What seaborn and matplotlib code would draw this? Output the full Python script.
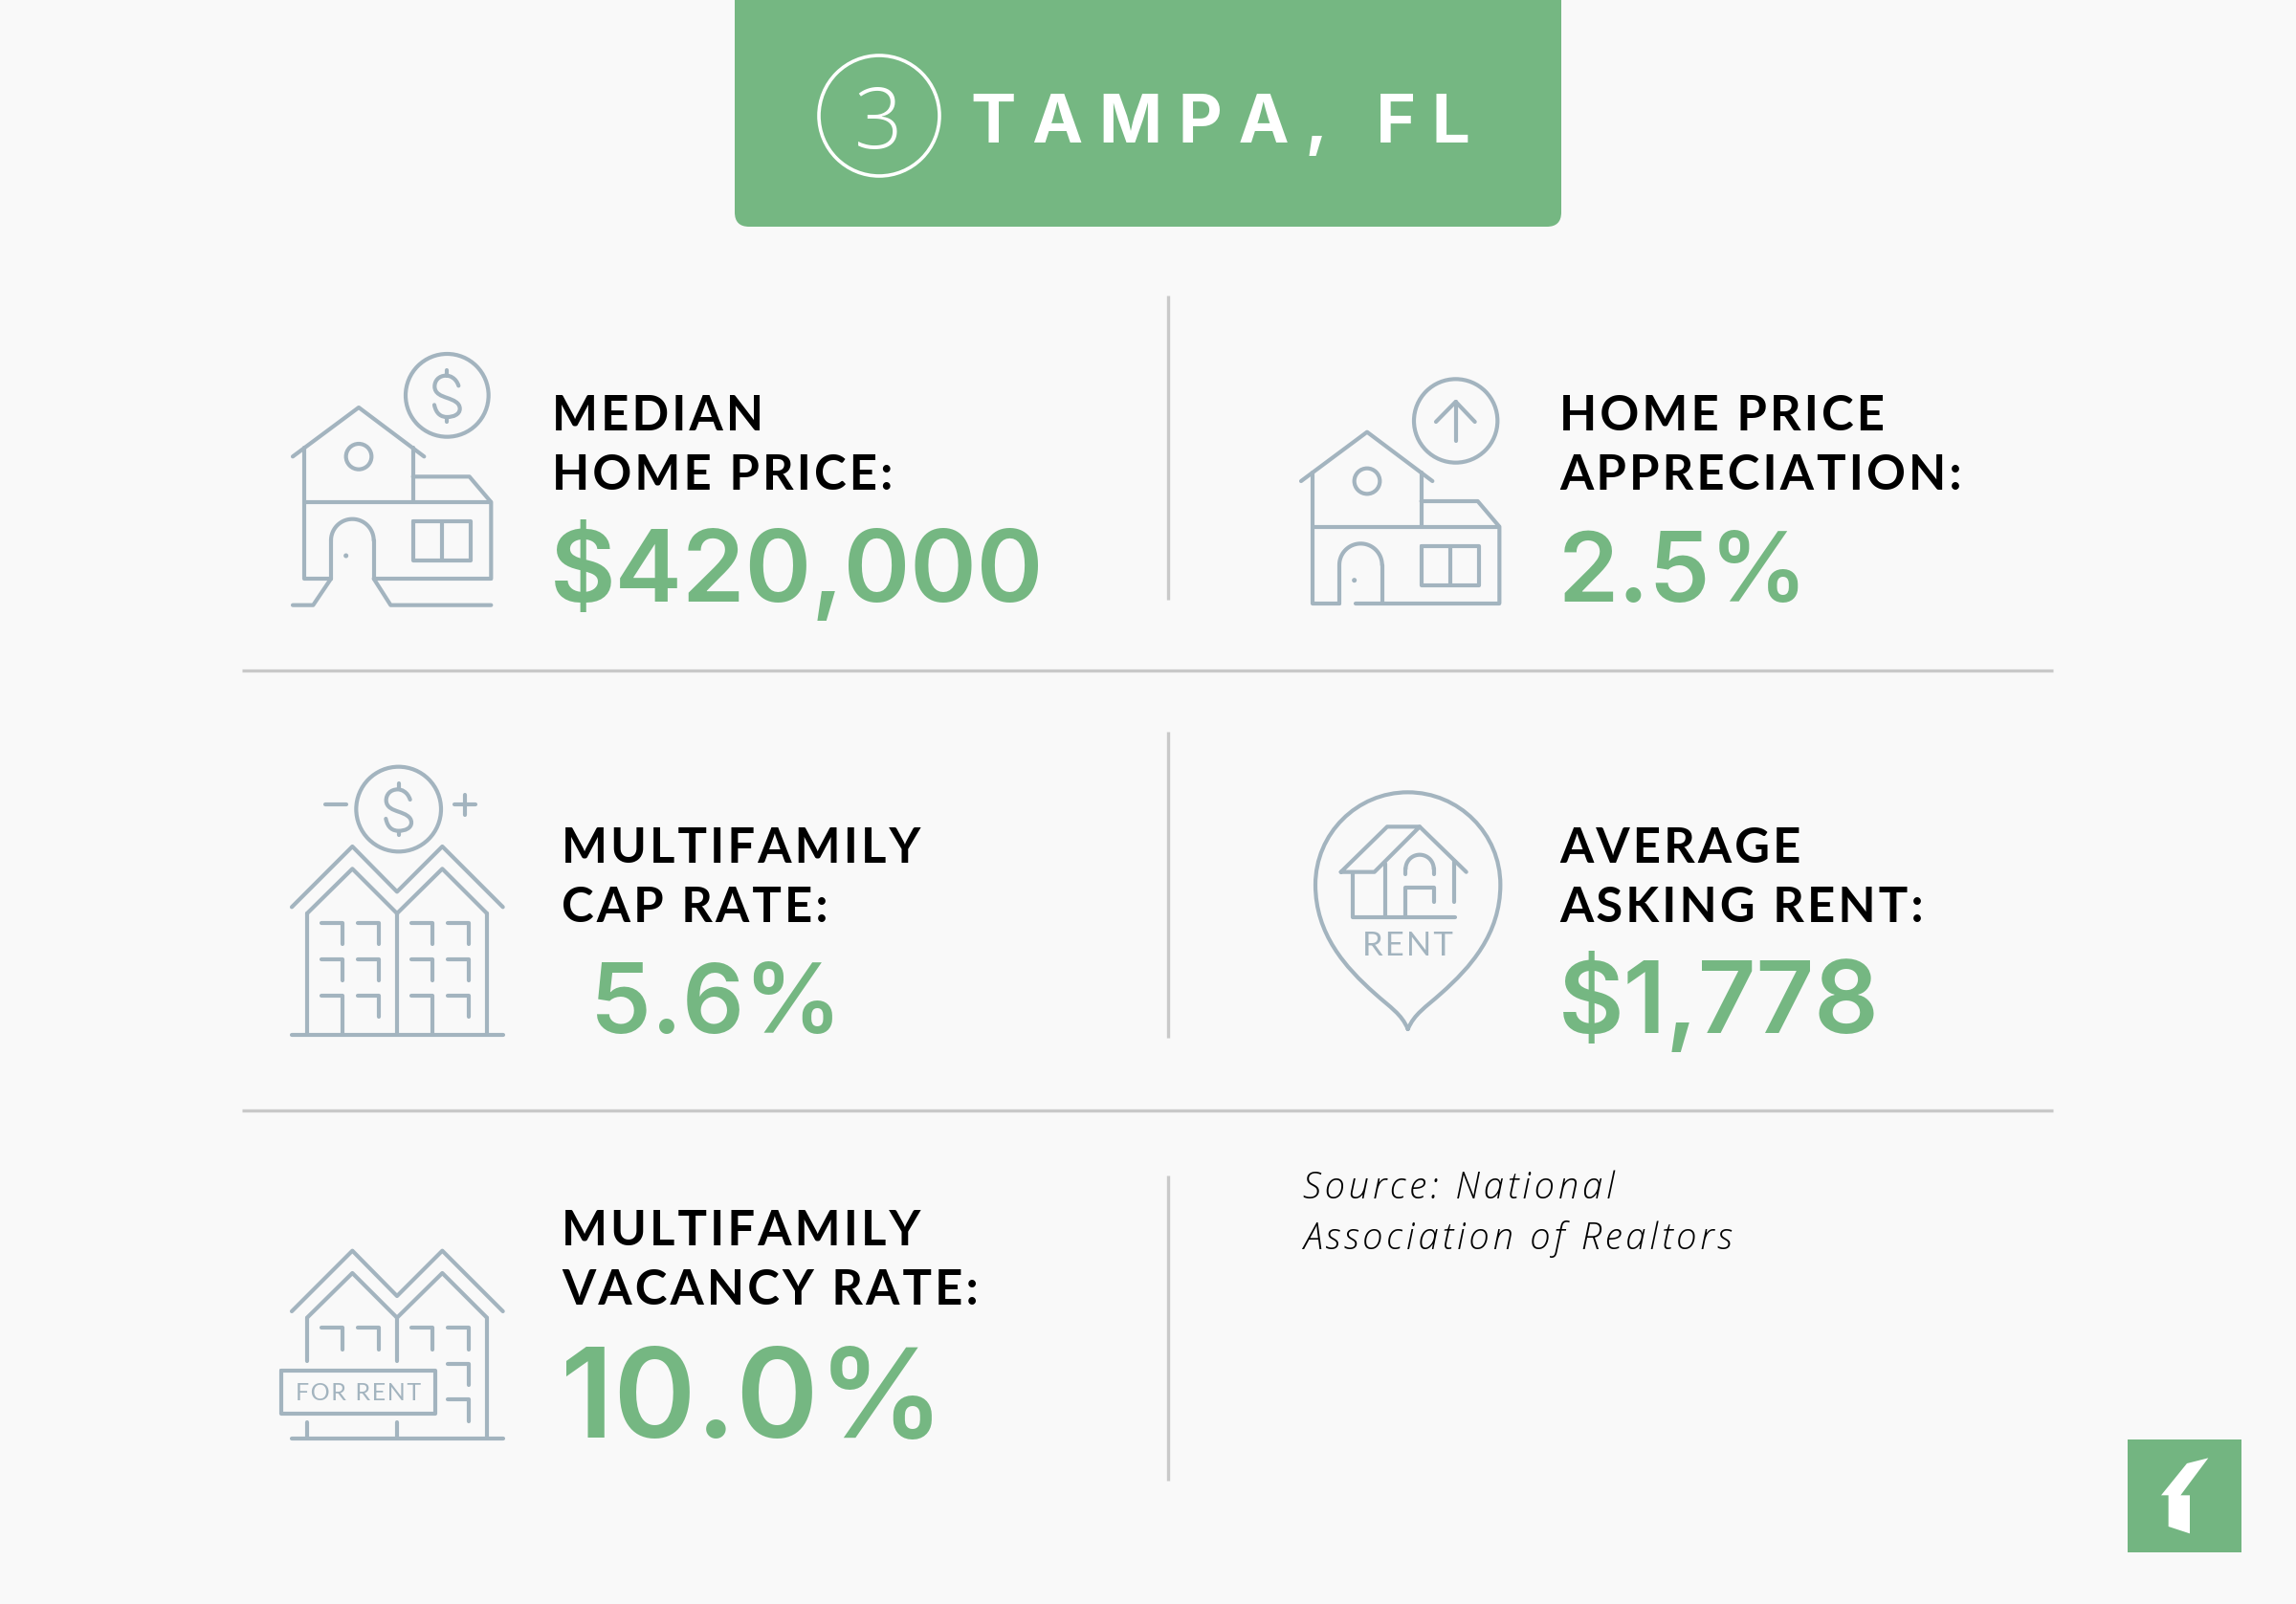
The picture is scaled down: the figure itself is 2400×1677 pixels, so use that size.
import numpy as np
import matplotlib
matplotlib.use("Agg")
import matplotlib.pyplot as plt
import seaborn as sns
from matplotlib.patches import Circle, FancyBboxPatch, PathPatch, Polygon, Rectangle
from matplotlib.path import Path

# --- Data ---
CITY_RANK = "3"
CITY_NAME = "TAMPA, FL"
LABELS = [
    ["MEDIAN", "HOME PRICE:"],
    ["HOME PRICE", "APPRECIATION:"],
    ["MULTIFAMILY", "CAP RATE:"],
    ["AVERAGE", "ASKING RENT:"],
    ["MULTIFAMILY", "VACANCY RATE:"],
]
VALUES = ["$420,000", "2.5%", "5.6%", "$1,778", "10.0%"]
SOURCE = ["Source: National", "Association of Realtors"]

# --- Style ---
BG = "#F9F9F9"
GREEN = "#75B782"
ICON = "#A3B4BF"
RULE = "#C9C9C9"
HAIR = "\u200a"

sns.set_theme(style="white")
plt.rcParams["font.family"] = ["Lato", "DejaVu Sans"]

fig, ax = plt.subplots(figsize=(24, 16.77), dpi=100, facecolor=BG)
ax.set_position([0, 0, 1, 1])
ax.set_xlim(0, 2400)
ax.set_ylim(1677, 0)
ax.axis("off")


def track(s, n=1):
    return (HAIR * n).join(s)


def line(pts, org, lw=3.0):
    # icon coordinates are 3x pixels relative to org
    xy = np.array(pts, dtype=float) / 3 + org
    ax.plot(xy[:, 0], xy[:, 1], color=ICON, lw=lw, solid_capstyle="round",
            solid_joinstyle="round")


def ring(c, r, org, lw=3.0):
    xy = np.array(c, dtype=float) / 3 + org
    ax.add_patch(Circle(xy, r / 3, fill=False, ec=ICON, lw=lw))


def curve(verts, org, lw=3.0):
    # verts: start point, then cubic triples
    xy = np.array(verts, dtype=float) / 3 + org
    codes = [Path.MOVETO] + [Path.CURVE4] * (len(verts) - 1)
    ax.add_patch(PathPatch(Path(xy, codes), fill=False, ec=ICON, lw=lw, capstyle="round"))


def arc(c, r, org, start=180, end=360, lw=3.0):
    t = np.radians(np.linspace(start, end, 40))
    line(np.c_[c[0] + r * np.cos(t), c[1] + r * np.sin(t)], org, lw)


def dollar(c, org):
    pts = np.array([
        (36, -30), (28, -55), (8, -62), (-2, -62), (-27, -62), (-39, -45), (-39, -28),
        (-39, -5), (-17, 2), (0, 8), (20, 15), (40, 23), (40, 42), (40, 60), (20, 68),
        (0, 68), (-17, 68), (-34, 60), (-40, 30),
    ]) + c
    curve(pts, org)
    line([(c[0], c[1] - 80), (c[0], c[1] - 62)], org)
    line([(c[0], c[1] + 68), (c[0], c[1] + 82)], org)


def house(org):
    line([(108, 412), (315, 258), (520, 412)], org)
    line([(145, 385), (145, 795), (228, 795)], org)
    line([(485, 385), (485, 555)], org)
    line([(145, 555), (730, 555)], org)
    line([(485, 475), (662, 475), (730, 555), (730, 795)], org)
    line([(228, 795), (228, 675)], org)
    arc((295, 675), 67, org)
    line([(362, 675), (362, 795)], org)
    line([(485, 615), (665, 615), (665, 738), (485, 738), (485, 615)], org)
    line([(575, 615), (575, 738)], org)
    ring((315, 412), 40, org)
    ax.add_patch(Circle(np.array([275, 723]) / 3 + org, 1.8, color=ICON))


def corner(x, y, org, drop=67):
    line([(x - 67, y), (x, y), (x, y + drop)], org)


def towers(org, top):
    d = top - 315
    line([(75, 505 + d), (265, 315 + d), (405, 457 + d), (547, 315 + d), (737, 505 + d)], org)
    line([(123, 525 + d), (265, 385 + d), (405, 525 + d), (547, 385 + d), (687, 525 + d)], org)


# --- Banner ---
ax.add_patch(FancyBboxPatch((768, -40), 864, 277, boxstyle="round,pad=0,rounding_size=15",
                            fc=GREEN, ec="none"))
ax.add_patch(Circle((919, 121), 63, fill=False, ec="white", lw=2.6))
ax.text(918, 155, CITY_RANK, color="white", fontsize=64, family=["Open Sans", "DejaVu Sans"],
        fontweight="light", ha="center", va="baseline")
ax.text(1015, 149, track(CITY_NAME, 3), color="white", fontsize=51,
        family=["Inter", "DejaVu Sans"], fontweight="bold", ha="left", va="baseline")

# --- Dividers ---
for y in [701, 1161]:
    ax.plot([253, 2146], [y, y], color=RULE, lw=2.4, solid_capstyle="butt")
for y0, y1 in [(309, 627), (765, 1085), (1229, 1548)]:
    ax.plot([1221, 1221], [y0, y1], color=RULE, lw=2.4, solid_capstyle="butt")

# --- Labels and values ---
label_x = [577, 1630, 587, 1630, 587]
label_y = [450, 450, 902, 902, 1302]
value_x = [575, 1629, 617, 1629, 586]
value_y = [629, 629, 1080, 1080, 1503]
value_size = [76, 73, 73, 76, 94]
for i in range(5):
    for j, part in enumerate(LABELS[i]):
        ax.text(label_x[i], label_y[i] + 61.5 * j, track(part), color="black", fontsize=36.5,
                fontweight="bold", ha="left", va="baseline")
    ax.text(value_x[i], value_y[i], VALUES[i], color=GREEN, fontsize=value_size[i],
            family=["Inter", "DejaVu Sans"], fontweight="semibold", ha="left", va="baseline")

source_font = ["Open Sans", "DejaVu Sans"]
ax.text(1362, 1253, track(SOURCE[0]), color="black", fontsize=27.5, family=source_font,
        fontweight="light", style="italic")
ax.text(1362, 1306, track(SOURCE[1]), color="black", fontsize=27.5, family=source_font,
        fontweight="light", style="italic")

# --- Icon 1: house, dollar and walkway ---
org = np.array([270, 340])
house(org)
line([(228, 795), (172, 878), (108, 878)], org)
line([(362, 795), (730, 795)], org)
line([(362, 795), (415, 878), (730, 878)], org)
ring((592, 220), 130, org)
dollar(np.array([592, 220]), org)

# --- Icon 2: house and arrow ---
org = np.array([1324, 365.67])
house(org)
line([(278, 795), (730, 795)], org)
ring((593, 223), 131, org)
line([(531, 226), (593, 163), (653, 226)], org)
line([(593, 163), (593, 286)], org)

# --- Icon 3: towers and dollar ---
org = np.array([280, 780])
towers(org, 315)
for x in [123, 405, 687]:
    line([(x, 525), (x, 905)], org)
line([(75, 905), (737, 905)], org)
for y in [555, 668, 782]:
    for x in [235, 348, 517, 630]:
        corner(x, y, org, 123 if y == 782 and x in (235, 517) else 67)
ring((410, 198), 133, org)
dollar(np.array([410, 198]), org)
line([(180, 183), (247, 183)], org)
line([(585, 183), (650, 183)], org)
line([(618, 152), (618, 215)], org)

# --- Icon 4: rent pin ---
org = np.array([1340, 800])
curve([(395, 828), (375, 780), (340, 760), (290, 715), (200, 635), (105, 530), (105, 375),
       (105, 215), (235, 85), (395, 85), (555, 85), (685, 215), (685, 375),
       (685, 530), (590, 635), (500, 715), (450, 760), (415, 780), (395, 828)], org)
line([(185, 335), (290, 335), (432, 193), (330, 193), (185, 335)], org)
line([(432, 193), (578, 335)], org)
line([(222, 335), (222, 478), (543, 478)], org)
line([(325, 310), (325, 478)], org)
line([(540, 300), (540, 430)], org)
line([(388, 478), (388, 385), (477, 385), (477, 430)], org)
line([(388, 342), (388, 325)], org)
arc((432, 325), 44, org)
line([(476, 325), (476, 342)], org)
ax.text(1340 + 395 / 3, 800 + 597 / 3, track("RENT"), color=ICON, fontsize=25, ha="center",
        va="baseline")

# --- Icon 5: towers and sign ---
org = np.array([280, 1280])
towers(org, 83)
line([(123, 293), (123, 430)], org)
line([(405, 293), (405, 430)], org)
line([(687, 293), (687, 673)], org)
line([(75, 673), (737, 673)], org)
line([(123, 620), (123, 673)], org)
line([(405, 620), (405, 673)], org)
for x in [235, 348, 517, 630]:
    corner(x, 325, org)
corner(630, 437, org)
corner(630, 550, org)
line([(42, 458), (525, 458), (525, 595), (42, 595), (42, 458)], org)
ax.text(280 + 285 / 3, 1280 + 552 / 3, track("FOR RENT"), color=ICON, fontsize=18, ha="center",
        va="baseline")

# --- Logo ---
ax.add_patch(Rectangle((2224, 1505), 119, 118, fc="#73B581", ec="none"))
logo = np.array([(325, 103), (258, 120), (177, 220), (200, 220), (200, 318), (267, 340),
                 (267, 220), (238, 220)]) / 3 + [2200, 1490]
ax.add_patch(Polygon(logo, fc="white", ec="none"))

fig.savefig("out.png", dpi=100, facecolor=BG)
